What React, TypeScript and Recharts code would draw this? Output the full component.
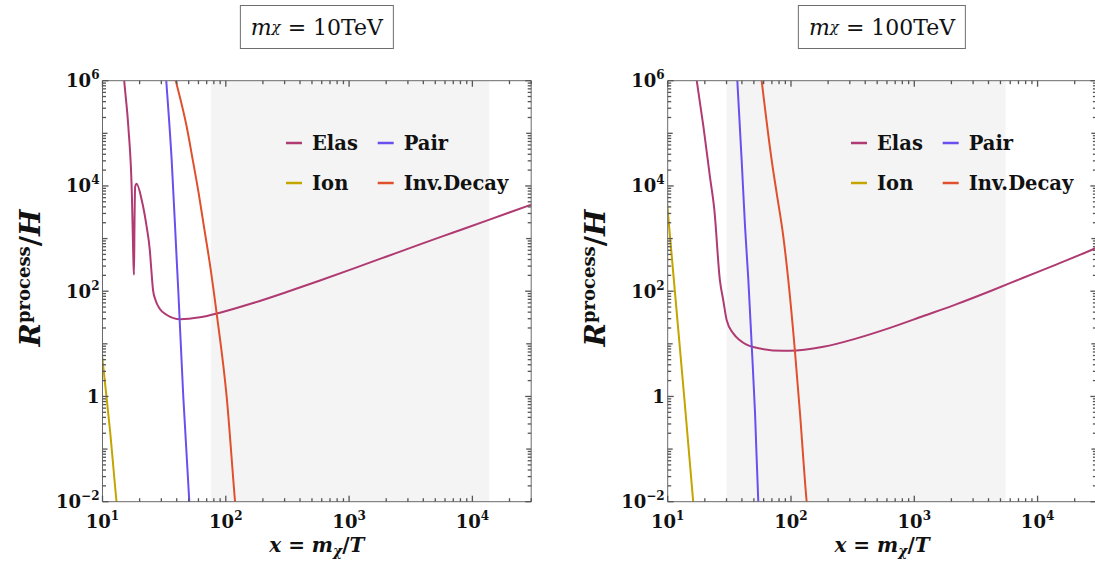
import React from 'react';
import { LineChart, Line, XAxis, YAxis, ReferenceArea } from 'recharts';

const SERIF = "'DejaVu Serif', serif";
const FRAME = '#6a6a6a';
const TICK = '#555';
const INK = '#111';
const SHADE = '#f4f4f4';
const COLORS = {
  elas: '#b03a72',
  pair: '#6a4ff0',
  ion: '#c4a500',
  invDecay: '#e0502c',
};

const X_DOMAIN = [10, 30000];
const Y_DOMAIN = [0.01, 1e6];

// tick marks at 1..9 x 10^k inside each decade
const decadeTicks = (fromExp: number, toExp: number, last: number) => {
  const out: number[] = [];
  for (let e = fromExp; e <= toExp; e++) {
    for (let m = 1; m <= 9; m++) {
      const v = Number((m * Math.pow(10, e)).toPrecision(3));
      if (v <= last) out.push(v);
    }
  }
  return out;
};
const X_TICKS = decadeTicks(1, 4, 30000);
const Y_TICKS = decadeTicks(-2, 6, 1e6);

type TickLabel = { value: number; base: string; exp: string };
const X_LABELS: TickLabel[] = [
  { value: 10, base: '10', exp: '1' },
  { value: 100, base: '10', exp: '2' },
  { value: 1000, base: '10', exp: '3' },
  { value: 10000, base: '10', exp: '4' },
];
const Y_LABELS: TickLabel[] = [
  { value: 0.01, base: '10', exp: '\u22122' },
  { value: 1, base: '1', exp: '' },
  { value: 100, base: '10', exp: '2' },
  { value: 10000, base: '10', exp: '4' },
  { value: 1e6, base: '10', exp: '6' },
];

// m_chi = 10 TeV
const elas10X = [14.6, 15.0, 16.2, 17.3, 17.8, 18.0, 18.2, 18.4, 18.9, 20.8, 22.8, 24.2, 24.9, 25.7, 26.9, 29.2, 33.3, 42.6, 61.7, 89.7, 167, 312, 581, 1081, 2018, 3758, 7000, 13060, 29300, 32000];
const elas10Y = [2.2e6, 1.0e6, 1.33e5, 7.2e3, 390, 205, 2500, 9700, 1.1e4, 5.4e3, 1.68e3, 603, 253, 105, 68, 45.9, 35.3, 29.3, 31.9, 39, 59.6, 96.6, 160, 269, 457, 776, 1303, 2188, 4315, 4645];
const pair10X = [32.0, 32.9, 36.4, 40.0, 41.2, 45.2, 50.6, 52];
const pair10Y = [2.5e6, 1e6, 3.1e4, 389, 100, 1, 0.01, 0.004];
const ion10X = [9.5, 10, 11.5, 13.0, 13.3];
const ion10Y = [16, 5, 0.23, 0.01, 0.006];
const inv10X = [36.3, 39.3, 48.2, 54.0, 60.3, 66.5, 73.5, 84.3, 101.6, 118.9, 123];
const inv10Y = [2.1e6, 1e6, 1.33e5, 3.1e4, 7.2e3, 1.68e3, 389, 38, 1, 0.01, 0.004];

// m_chi = 100 TeV
const elas100X = [16.2, 17.2, 19.5, 22.0, 23.9, 26.5, 28.2, 30.1, 34.0, 38.5, 49.4, 86.7, 98.2, 183, 341, 635, 1183, 2208, 4111, 7656, 14290, 29170, 32000];
const elas100Y = [2.5e6, 1e6, 1.33e5, 1.5e4, 3.5e3, 162, 68, 28, 15.8, 11.7, 8.7, 7.36, 7.36, 8.77, 12.7, 20.1, 33.7, 56.9, 100, 180, 324, 652, 720];
const pair100X = [35.9, 36.7, 39.8, 42.4, 45.1, 48.0, 51.1, 54.3, 55.5];
const pair100Y = [2.7e6, 1e6, 3.1e4, 1.68e3, 162, 9.5, 0.48, 0.01, 0.004];
const ion100X = [9.55, 10, 11.3, 13.6, 16.1, 16.5];
const ion100Y = [1.2e4, 3.5e3, 135, 1, 0.01, 0.005];
const inv100X = [55.0, 57.8, 69.7, 76.6, 86.7, 95.1, 107.6, 118.3, 134, 138];
const inv100Y = [2.6e6, 1e6, 3.1e4, 7.2e3, 1.08e3, 162, 7.36, 0.48, 0.01, 0.005];

// shaded x-ranges
const shade10 = [76, 13700];
const shade100 = [30, 5500];

const LEGEND = [
  { name: 'Elas', color: COLORS.elas },
  { name: 'Pair', color: COLORS.pair },
  { name: 'Ion', color: COLORS.ion },
  { name: 'Inv.Decay', color: COLORS.invDecay },
];

const zip = (xs: number[], ys: number[]) => xs.map((x, i) => ({ x, y: ys[i] }));

type Series = { key: string; color: string; points: { x: number; y: number }[] };

const CHART_H = 572;
const PLOT_TOP = 80.7;
const PLOT_BOTTOM = 501.7;
const X_AXIS_H = 40;
const Y_AXIS_W = 60;

const sameValue = (a: number, b: number) => Math.abs(a - b) / b < 1e-6;
const isDecade = (v: number) => {
  const l = Math.log10(v);
  return Math.abs(l - Math.round(l)) < 1e-6;
};

type Side = 'bottom' | 'top' | 'left' | 'right';

// inward tick marks (longer at decades), labels only on bottom/left
const makeTick = (side: Side, labels: TickLabel[], showLabel: boolean) => (props: any) => {
  const x = Number(props.x);
  const y = Number(props.y);
  const v = props.payload.value as number;
  const lab = labels.find((l) => sameValue(l.value, v));
  const len = lab ? 6 : isDecade(v) ? 5 : 3.5;
  const w = 1.3;
  let mark;
  if (side === 'bottom') mark = <rect x={x - w / 2} y={y - len} width={w} height={len} fill={TICK} />;
  else if (side === 'top') mark = <rect x={x - w / 2} y={y} width={w} height={len} fill={TICK} />;
  else if (side === 'left') mark = <rect x={x} y={y - w / 2} width={len} height={w} fill={TICK} />;
  else mark = <rect x={x - len} y={y - w / 2} width={len} height={w} fill={TICK} />;
  const text = showLabel && lab;
  return (
    <g>
      {mark}
      {text && side === 'bottom' && (
        <text x={x} y={y + 26.5} textAnchor="middle" fontFamily={SERIF} fontWeight="bold" fontSize={18} fill={INK} stroke="none">
          <tspan>{lab.base}</tspan>
          {lab.exp && <tspan dy={-8} fontSize={12}>{lab.exp}</tspan>}
        </text>
      )}
      {text && side === 'left' && (
        <text x={x - 3} y={y + 6.5} textAnchor="end" fontFamily={SERIF} fontWeight="bold" fontSize={18} fill={INK} stroke="none">
          <tspan>{lab.base}</tspan>
          {lab.exp && <tspan dy={-8} fontSize={12}>{lab.exp}</tspan>}
        </text>
      )}
    </g>
  );
};

const LegendBox = ({ left, top }: { left: number; top: number }) => (
  <svg width={260} height={64} style={{ position: 'absolute', left, top, overflow: 'visible', pointerEvents: 'none' }}>
    {LEGEND.map((item, i) => {
      const x0 = (i % 2) * 91.7;
      const y0 = 10 + Math.floor(i / 2) * 40;
      return (
        <g key={item.name}>
          <line x1={x0} x2={x0 + 16} y1={y0} y2={y0} stroke={item.color} strokeWidth={2.5} />
          <text x={x0 + 26} y={y0 + 7} fontFamily={SERIF} fontWeight="bold" fontSize={19.5} fill={INK}>
            {item.name}
          </text>
        </g>
      );
    })}
  </svg>
);

interface PanelProps {
  mass: string;
  left: number;
  width: number;
  plotLeft: number;
  plotRight: number;
  shade: number[];
  series: Series[];
}

function Panel({ mass, left, width, plotLeft, plotRight, shade, series }: PanelProps) {
  const innerLeft = plotLeft - left;
  const innerRight = plotRight - left;
  const centerX = (innerLeft + innerRight) / 2;
  const margin = {
    top: PLOT_TOP - 1,
    right: width - innerRight - 1,
    bottom: CHART_H - PLOT_BOTTOM - X_AXIS_H,
    left: innerLeft - Y_AXIS_W,
  };
  const axisCommon = {
    type: 'number' as const,
    scale: 'log' as const,
    allowDataOverflow: true,
    interval: 0 as const,
    tickSize: 0,
    tickMargin: 0,
    tickLine: false,
    axisLine: { stroke: FRAME, strokeWidth: 1 },
  };

  return (
    <div style={{ position: 'absolute', left, top: 0, width, height: CHART_H }}>
      <LineChart width={width} height={CHART_H} margin={margin}>
        <ReferenceArea x1={shade[0]} x2={shade[1]} fill={SHADE} fillOpacity={1} stroke="none" />
        {series.map((s) => (
          <Line
            key={s.key}
            data={s.points}
            dataKey="y"
            type="monotone"
            stroke={s.color}
            strokeWidth={2}
            dot={false}
            activeDot={false}
            isAnimationActive={false}
          />
        ))}
        {/* invisible copy so the mirrored frame axes have a series bound to them */}
        <Line
          xAxisId="top"
          yAxisId="right"
          data={series[0].points}
          dataKey="y"
          stroke="none"
          dot={false}
          activeDot={false}
          legendType="none"
          isAnimationActive={false}
        />
        <XAxis {...axisCommon} dataKey="x" domain={X_DOMAIN} ticks={X_TICKS} height={X_AXIS_H} tick={makeTick('bottom', X_LABELS, true)} />
        <XAxis {...axisCommon} xAxisId="top" orientation="top" dataKey="x" domain={X_DOMAIN} ticks={X_TICKS} height={1} tick={makeTick('top', X_LABELS, false)} />
        <YAxis {...axisCommon} domain={Y_DOMAIN} ticks={Y_TICKS} width={Y_AXIS_W} tick={makeTick('left', Y_LABELS, true)} />
        <YAxis {...axisCommon} yAxisId="right" orientation="right" domain={Y_DOMAIN} ticks={Y_TICKS} width={1} tick={makeTick('right', Y_LABELS, false)} />
      </LineChart>

      <LegendBox left={innerLeft + 183.5} top={133.3} />

      {/* mass label box */}
      <div
        style={{
          position: 'absolute',
          left: centerX,
          top: 5,
          height: 44,
          transform: 'translateX(-50%)',
          boxSizing: 'border-box',
          border: '1.5px solid #6e6e6e',
          padding: '0 10px',
          display: 'flex',
          alignItems: 'center',
          whiteSpace: 'nowrap',
          fontFamily: SERIF,
          fontSize: 22,
          color: INK,
        }}
      >
        <span style={{ fontStyle: 'italic' }}>m</span>
        <sub style={{ fontStyle: 'italic', fontSize: 15, verticalAlign: '-5px' }}>χ</sub>
        <span>&nbsp;=&nbsp;{mass}</span>
      </div>

      {/* y axis title */}
      <div
        style={{
          position: 'absolute',
          left: innerLeft - 72.5,
          top: 277.5,
          transform: 'translate(-50%, -50%) rotate(-90deg)',
          whiteSpace: 'nowrap',
          fontFamily: SERIF,
          fontWeight: 'bold',
          fontSize: 28,
          lineHeight: 1,
          color: INK,
        }}
      >
        <span style={{ fontStyle: 'italic' }}>R</span>
        <sup style={{ fontSize: 18, verticalAlign: '10px' }}>process</sup>
        <span>/</span>
        <span style={{ fontStyle: 'italic' }}>H</span>
      </div>

      {/* x axis title */}
      <div
        style={{
          position: 'absolute',
          left: centerX,
          top: 535,
          transform: 'translateX(-50%)',
          whiteSpace: 'nowrap',
          fontFamily: SERIF,
          fontWeight: 'bold',
          fontSize: 20,
          lineHeight: '20px',
          color: INK,
        }}
      >
        <span style={{ fontStyle: 'italic' }}>x</span>
        <span>&nbsp;=&nbsp;</span>
        <span style={{ fontStyle: 'italic' }}>m</span>
        <sub style={{ fontStyle: 'italic', fontSize: 14, verticalAlign: '-4px' }}>χ</sub>
        <span>/</span>
        <span style={{ fontStyle: 'italic' }}>T</span>
      </div>
    </div>
  );
}

const series10: Series[] = [
  { key: 'elas', color: COLORS.elas, points: zip(elas10X, elas10Y) },
  { key: 'ion', color: COLORS.ion, points: zip(ion10X, ion10Y) },
  { key: 'pair', color: COLORS.pair, points: zip(pair10X, pair10Y) },
  { key: 'invDecay', color: COLORS.invDecay, points: zip(inv10X, inv10Y) },
];

const series100: Series[] = [
  { key: 'elas', color: COLORS.elas, points: zip(elas100X, elas100Y) },
  { key: 'ion', color: COLORS.ion, points: zip(ion100X, ion100Y) },
  { key: 'pair', color: COLORS.pair, points: zip(pair100X, pair100Y) },
  { key: 'invDecay', color: COLORS.invDecay, points: zip(inv100X, inv100Y) },
];

export default function App() {
  return (
    <div style={{ position: 'absolute', left: 0, top: 0, width: 1095, height: 572, overflow: 'hidden', background: '#fff' }}>
      <Panel mass="10TeV" left={0} width={547} plotLeft={102.5} plotRight={531.2} shade={shade10} series={series10} />
      <Panel mass="100TeV" left={547} width={560} plotLeft={667.7} plotRight={1096.4} shade={shade100} series={series100} />
    </div>
  );
}
